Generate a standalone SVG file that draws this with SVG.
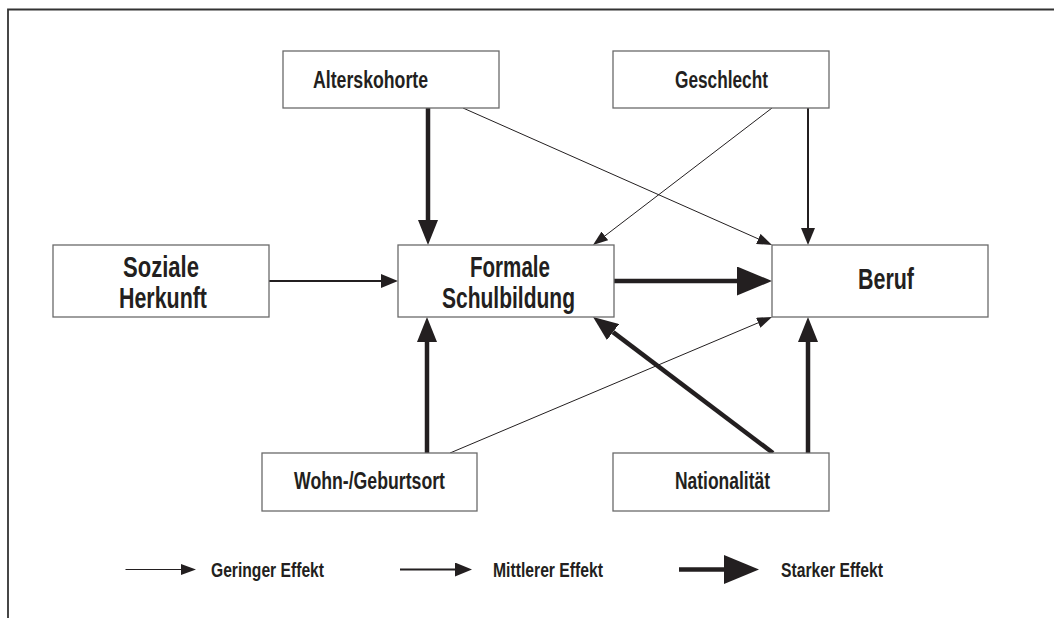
<svg xmlns="http://www.w3.org/2000/svg" width="1054" height="618" viewBox="0 0 1054 618">
<style>
.box{fill:#fff;stroke:#6a6a6a;stroke-width:1.3}
.t{font-family:"Liberation Sans","DejaVu Sans Condensed",sans-serif;font-weight:bold;fill:#231f20}
.big{font-size:29px}
.sm{font-size:23px}
.lg{font-size:20px}
.c{fill:none;stroke:#231f20;stroke-linecap:butt}
.w1{stroke-width:1}
.w2{stroke-width:2}
.w4{stroke-width:4.5}
</style>
<defs>
<marker id="hThin" markerUnits="userSpaceOnUse" markerWidth="15" markerHeight="11" refX="0" refY="5.5" orient="auto"><path d="M0,0 L15,5.5 L0,11 Z" fill="#231f20"/></marker>
<marker id="hMed" markerUnits="userSpaceOnUse" markerWidth="17" markerHeight="14" refX="0" refY="7" orient="auto"><path d="M0,0 L17,7 L0,14 Z" fill="#231f20"/></marker>
<marker id="hThick" markerUnits="userSpaceOnUse" markerWidth="25" markerHeight="20" refX="0" refY="10" orient="auto"><path d="M0,0 L25,10 L0,20 Z" fill="#231f20"/></marker>
<marker id="hBig" markerUnits="userSpaceOnUse" markerWidth="35" markerHeight="29" refX="0" refY="14.5" orient="auto"><path d="M0,0 L35,14.5 L0,29 Z" fill="#231f20"/></marker>
</defs>
<rect width="1054" height="618" fill="#fff"/>
<g id="frame" fill="none" stroke="#333" stroke-width="1.8">
<path d="M1054,9.5 L8,9.5 L8,618"/>
</g>
<g id="connectors">
<line class="c w2" x1="269" y1="281" x2="381" y2="281" marker-end="url(#hMed)"/>
<line class="c w4" x1="614" y1="281" x2="737" y2="281" marker-end="url(#hBig)"/>
<line class="c w4" x1="428" y1="108" x2="428" y2="220" marker-end="url(#hThick)"/>
<line class="c w1" x1="463" y1="108" x2="758.3" y2="238.9" marker-end="url(#hThin)"/>
<line class="c w1" x1="772" y1="108" x2="604.9" y2="235.9" marker-end="url(#hThin)"/>
<line class="c w2" x1="808" y1="108" x2="808" y2="228" marker-end="url(#hMed)"/>
<line class="c w4" x1="427" y1="453" x2="427" y2="342" marker-end="url(#hThick)"/>
<line class="c w1" x1="450" y1="453" x2="758.2" y2="322.8" marker-end="url(#hThin)"/>
<line class="c w4" x1="773" y1="453" x2="613" y2="332.1" marker-end="url(#hThick)"/>
<line class="c w4" x1="808" y1="453" x2="808" y2="342" marker-end="url(#hThick)"/>
</g>
<g id="alterskohorte"><rect class="box" x="283" y="51" width="216" height="57"/><text class="t sm" x="313" y="88" textLength="115" lengthAdjust="spacingAndGlyphs">Alterskohorte</text></g>
<g id="geschlecht"><rect class="box" x="613" y="51" width="216" height="57"/><text class="t sm" x="675" y="88" textLength="93" lengthAdjust="spacingAndGlyphs">Geschlecht</text></g>
<g id="soziale-herkunft"><rect class="box" x="53" y="245" width="216" height="72"/><text class="t big" x="123" y="277" textLength="76" lengthAdjust="spacingAndGlyphs">Soziale</text><text class="t big" x="119" y="308" textLength="88" lengthAdjust="spacingAndGlyphs">Herkunft</text></g>
<g id="formale-schulbildung"><rect class="box" x="398" y="245" width="216" height="72"/><text class="t big" x="470" y="277" textLength="80" lengthAdjust="spacingAndGlyphs">Formale</text><text class="t big" x="442" y="308" textLength="133" lengthAdjust="spacingAndGlyphs">Schulbildung</text></g>
<g id="beruf"><rect class="box" x="772" y="245" width="216" height="72"/><text class="t big" x="858" y="289" textLength="56" lengthAdjust="spacingAndGlyphs">Beruf</text></g>
<g id="wohnort"><rect class="box" x="262" y="453" width="215" height="58"/><text class="t sm" x="294" y="489" textLength="151" lengthAdjust="spacingAndGlyphs">Wohn-/Geburtsort</text></g>
<g id="nationalitaet"><rect class="box" x="613" y="453" width="216" height="58"/><text class="t sm" x="675" y="489" textLength="95" lengthAdjust="spacingAndGlyphs">Nationalität</text></g>
<g id="legend">
<line class="c w1" x1="125.5" y1="569.5" x2="181" y2="569.5" marker-end="url(#hThin)"/>
<text class="t lg" x="211" y="576.5" textLength="113" lengthAdjust="spacingAndGlyphs">Geringer Effekt</text>
<line class="c w2" x1="400" y1="569.5" x2="455" y2="569.5" marker-end="url(#hMed)"/>
<text class="t lg" x="493" y="576.5" textLength="110" lengthAdjust="spacingAndGlyphs">Mittlerer Effekt</text>
<line class="c w4" x1="679" y1="569.5" x2="724" y2="569.5" marker-end="url(#hBig)"/>
<text class="t lg" x="781" y="576.5" textLength="102" lengthAdjust="spacingAndGlyphs">Starker Effekt</text>
</g>
</svg>
